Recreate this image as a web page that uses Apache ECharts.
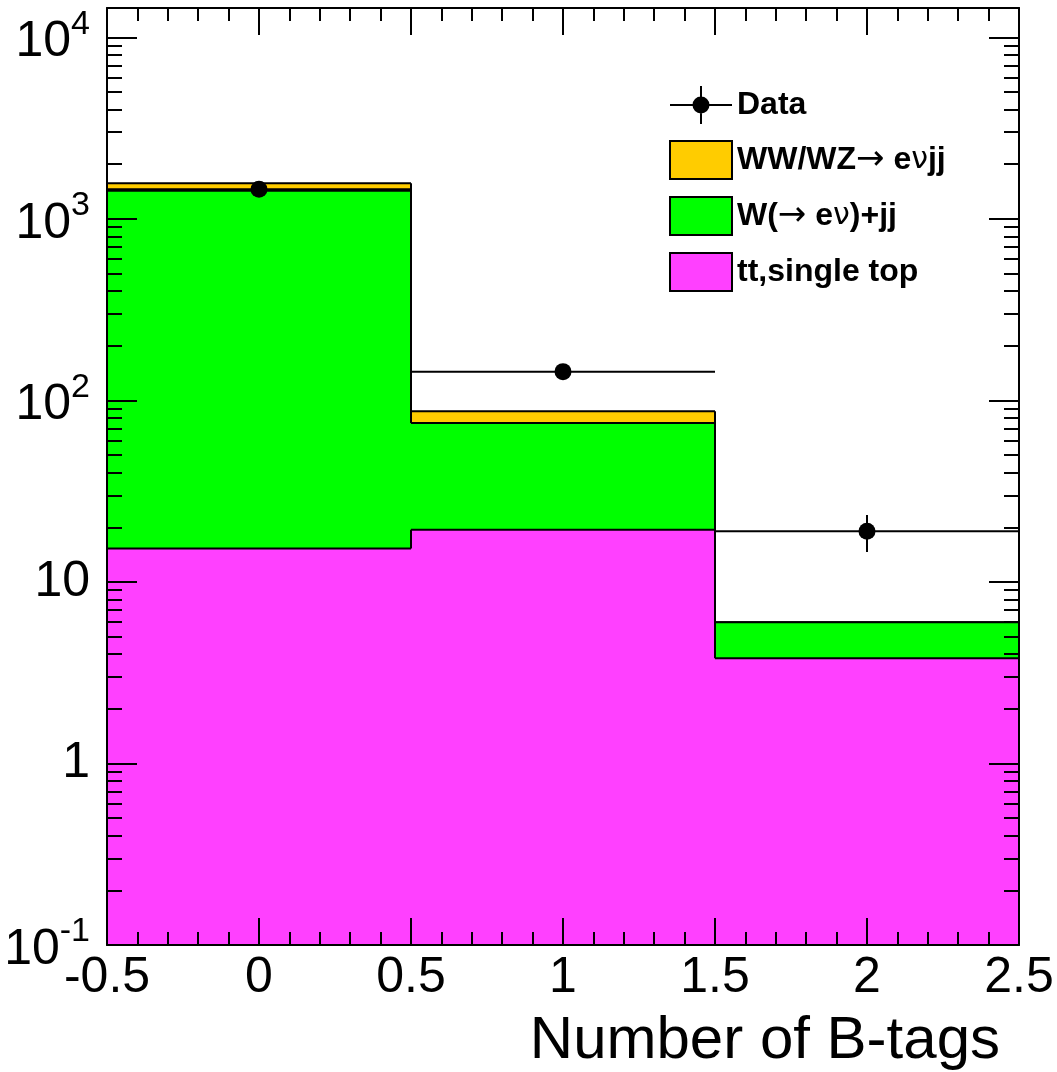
<!DOCTYPE html>
<html>
<head>
<meta charset="utf-8">
<title>Number of B-tags</title>
<script src="https://cdn.jsdelivr.net/npm/echarts@6/dist/echarts.min.js"></script>
<style>
  html, body { margin: 0; padding: 0; background: #ffffff; }
  #chart { width: 1057px; height: 1072px; }
</style>
</head>
<body>
<div id="chart"></div>
<script>
// Bin layout of the B-tag multiplicity histogram
const binEdges = [-0.5, 0.5, 1.5, 2.5];
const binCenters = [0, 1, 2];
const binHalfWidths = [0.5, 0.5, 0.5];

// Expected events per bin for each background
const topEvents = [15.3, 19.4, 3.8];        // tt, single top
const wjjEvents = [1414, 55.6, 2.2];        // W(-> e nu) + jj
const dibosonEvents = [141, 12, 0];         // WW/WZ -> e nu jj

// Observed events with their uncertainties
const dataEvents = [1455, 144, 19];
const dataErrors = [38, 12, 4.4];

// Axis ranges
const X_MIN = -0.5, X_MAX = 2.5, X_STEP = 0.5;
const Y_MIN = 0.1, Y_MAX = 14500;
const X_TITLE = 'Number of B-tags';

const seriesNames = {
  data: 'Data',
  diboson: 'WW/WZ\u2192 e\u03bdjj',
  wjj: 'W(\u2192 e\u03bd)+jj',
  top: 'tt,single top'
};
const colors = { diboson: '#FFCC00', wjj: '#00FF00', top: '#FF40FF' };
const FONT = '"Liberation Sans", Arial, Helvetica, sans-serif';
const SYMBOL_FONT = '"DejaVu Sans", "Liberation Sans", sans-serif';

// Stacked totals: each histogram is drawn from the axis floor up to its cumulative sum
const stackTop = topEvents.slice();
const stackW = topEvents.map((v, i) => v + wjjEvents[i]);
const stackAll = stackW.map((v, i) => v + dibosonEvents[i]);

function histItems(tops) {
  return tops.map((t, i) => [binEdges[i], binEdges[i + 1], t, i === 0 ? Y_MIN : tops[i - 1]]);
}

function histRenderer(fill, nBins) {
  return function (params, api) {
    const xlo = api.value(0), xhi = api.value(1), top = api.value(2), prev = api.value(3);
    const a = api.coord([xlo, top]);
    const b = api.coord([xhi, Y_MIN]);
    const p = api.coord([xlo, prev]);
    const stroke = { stroke: '#000', lineWidth: 2, fill: null };
    const children = [
      { type: 'rect', z2: 0, shape: { x: a[0], y: a[1], width: b[0] - a[0], height: b[1] - a[1] }, style: { fill: fill } },
      { type: 'line', z2: 1, shape: { x1: a[0], y1: a[1], x2: b[0], y2: a[1] }, style: stroke },
      { type: 'line', z2: 1, shape: { x1: a[0], y1: p[1], x2: a[0], y2: a[1] }, style: stroke }
    ];
    if (params.dataIndex === nBins - 1) {
      children.push({ type: 'line', z2: 1, shape: { x1: b[0], y1: a[1], x2: b[0], y2: b[1] }, style: stroke });
    }
    return { type: 'group', children: children };
  };
}

function dataRenderer(params, api) {
  const x = api.value(0), y = api.value(1), err = api.value(2), hw = api.value(3);
  const c = api.coord([x, y]);
  const l = api.coord([x - hw, y]);
  const r = api.coord([x + hw, y]);
  const up = api.coord([x, y + err]);
  const dn = api.coord([x, y - err]);
  const stroke = { stroke: '#000', lineWidth: 2, fill: null };
  return {
    type: 'group',
    children: [
      { type: 'line', shape: { x1: l[0], y1: l[1], x2: r[0], y2: r[1] }, style: stroke },
      { type: 'line', shape: { x1: up[0], y1: up[1], x2: dn[0], y2: dn[1] }, style: stroke },
      { type: 'circle', shape: { cx: c[0], cy: c[1], r: 8.5 }, style: { fill: '#000' } }
    ]
  };
}

const axisLineStyle = { color: '#000', width: 2 };

function xAxisDef(position, withLabels) {
  return {
    type: 'value',
    position: position,
    z: 10,
    min: X_MIN, max: X_MAX, interval: X_STEP,
    axisLine: { show: true, onZero: false, lineStyle: axisLineStyle },
    axisTick: { show: true, inside: true, length: 27, lineStyle: axisLineStyle },
    minorTick: { show: true, splitNumber: 5, length: 13, lineStyle: axisLineStyle },
    splitLine: { show: false },
    minorSplitLine: { show: false },
    axisLabel: {
      show: withLabels, color: '#000', fontFamily: FONT, fontSize: 50, margin: 8,
      showMinLabel: true, showMaxLabel: true
    }
  };
}

function logLabel(v) {
  const lg = Math.log10(v);
  const e = Math.round(lg);
  if (Math.abs(lg - e) > 1e-6) return '';
  if (e === 0) return '{n|1}';
  if (e === 1) return '{n|10}';
  return '{b|10}{s|' + e + '}';
}

function yAxisDef(position, withLabels) {
  return {
    type: 'log',
    logBase: 10,
    position: position,
    z: 10,
    min: Y_MIN, max: Y_MAX,
    axisLine: { show: true, onZero: false, lineStyle: axisLineStyle },
    axisTick: { show: true, inside: true, length: 30, lineStyle: axisLineStyle },
    minorTick: { show: true, splitNumber: 9, length: 15, lineStyle: axisLineStyle },
    splitLine: { show: false },
    minorSplitLine: { show: false },
    axisLabel: {
      show: withLabels, color: '#000', fontFamily: FONT, margin: 17,
      formatter: logLabel,
      rich: {
        n: { fontSize: 50, fontFamily: FONT, color: '#000' },
        b: { fontSize: 50, fontFamily: FONT, color: '#000', padding: [10, 0, 0, 0] },
        s: { fontSize: 34, fontFamily: FONT, color: '#000', verticalAlign: 'top' }
      }
    }
  };
}

// Legend labels: arrows and Greek letters set in a lighter symbol face
function legendLabel(name) {
  return name.replace(/[\u2192\u03bd]/g, function (ch) {
    return ch === '\u2192' ? '{arr|' + ch + '}' : '{gr|' + ch + '}';
  });
}

const chart = echarts.init(document.getElementById('chart'), null, { renderer: 'canvas' });

chart.setOption({
  animation: false,
  backgroundColor: '#ffffff',
  grid: { left: 107, top: 8, width: 912, height: 937, containLabel: false },
  xAxis: [xAxisDef('bottom', true), xAxisDef('top', false)],
  yAxis: [yAxisDef('left', true), yAxisDef('right', false)],
  graphic: [
    {
      type: 'text',
      right: 57,
      top: 1011,
      style: { text: X_TITLE, fill: '#000', font: '60px ' + FONT }
    }
  ],
  legend: {
    orient: 'vertical',
    left: 669, top: 86,
    padding: 0,
    itemWidth: 62, itemHeight: 38, itemGap: 16,
    selectedMode: false,
    formatter: legendLabel,
    textStyle: {
      color: '#000', fontFamily: FONT, fontSize: 32, fontWeight: 'bold',
      rich: {
        arr: { fontFamily: SYMBOL_FONT, fontSize: 34, fontWeight: 'normal', color: '#000' },
        gr: { fontFamily: SYMBOL_FONT, fontSize: 30, fontWeight: 'normal', color: '#000' }
      }
    },
    data: [
      {
        name: seriesNames.data,
        icon: 'path://M0,18H62V20H0Z M30,0H32V38H30Z M31,10.5A8.5,8.5,0,1,1,30.99,10.5Z',
        itemStyle: { color: '#000', borderWidth: 0 }
      },
      { name: seriesNames.diboson, icon: 'rect', itemStyle: { color: colors.diboson, borderColor: '#000', borderWidth: 2 } },
      { name: seriesNames.wjj, icon: 'rect', itemStyle: { color: colors.wjj, borderColor: '#000', borderWidth: 2 } },
      { name: seriesNames.top, icon: 'rect', itemStyle: { color: colors.top, borderColor: '#000', borderWidth: 2 } }
    ]
  },
  series: [
    {
      name: seriesNames.diboson, type: 'custom', z: 2,
      xAxisIndex: 0, yAxisIndex: 0,
      itemStyle: { color: colors.diboson },
      encode: { x: [0, 1], y: [2] },
      renderItem: histRenderer(colors.diboson, binCenters.length),
      data: histItems(stackAll)
    },
    {
      name: seriesNames.wjj, type: 'custom', z: 3,
      xAxisIndex: 0, yAxisIndex: 0,
      itemStyle: { color: colors.wjj },
      encode: { x: [0, 1], y: [2] },
      renderItem: histRenderer(colors.wjj, binCenters.length),
      data: histItems(stackW)
    },
    {
      name: seriesNames.top, type: 'custom', z: 4,
      xAxisIndex: 0, yAxisIndex: 0,
      itemStyle: { color: colors.top },
      encode: { x: [0, 1], y: [2] },
      renderItem: histRenderer(colors.top, binCenters.length),
      data: histItems(stackTop)
    },
    {
      name: seriesNames.data, type: 'custom', z: 6,
      xAxisIndex: 0, yAxisIndex: 0,
      itemStyle: { color: '#000' },
      encode: { x: [0], y: [1] },
      renderItem: dataRenderer,
      data: binCenters.map((x, i) => [x, dataEvents[i], dataErrors[i], binHalfWidths[i]])
    }
  ]
});
</script>
</body>
</html>
